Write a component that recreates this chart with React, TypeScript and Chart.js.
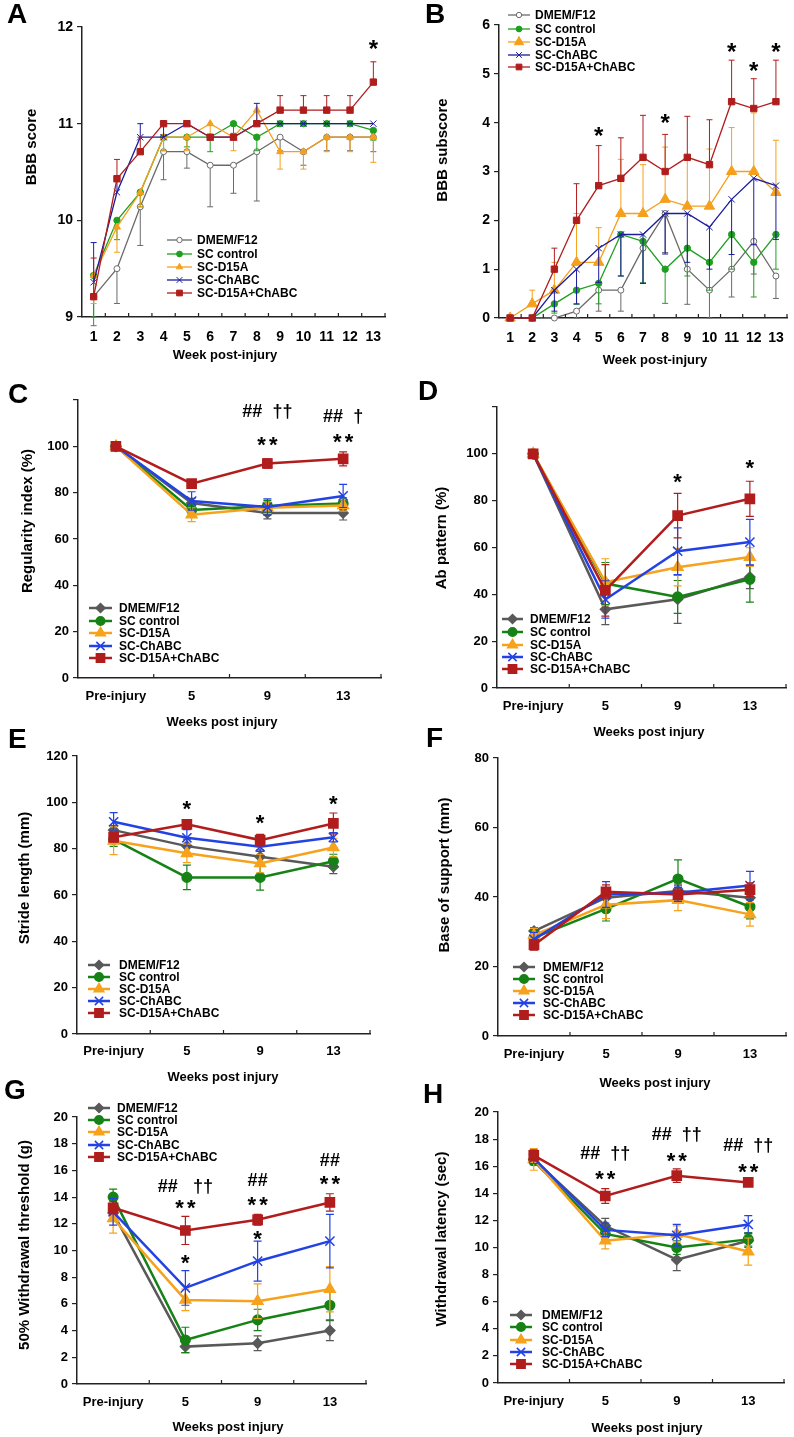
import React, { useEffect, useRef } from 'react';
import { Chart, registerables } from 'chart.js';
import { drawPoint } from 'chart.js/helpers';

Chart.register(...registerables);

const FONT = "'Liberation Sans', Arial, Helvetica, sans-serif";
Chart.defaults.font.family = FONT;
Chart.defaults.font.weight = 'bold';
Chart.defaults.color = '#000';

// ---------------- data ----------------
const GROUPS = ['DMEM/F12', 'SC control', 'SC-D15A', 'SC-ChABC', 'SC-D15A+ChABC'];
const WEEKS = ['1', '2', '3', '4', '5', '6', '7', '8', '9', '10', '11', '12', '13'];
const VISITS = ['Pre-injury', '5', '9', '13'];

// A: BBB score
const bbbDmem = [9.21, 9.5, 10.14, 10.71, 10.71, 10.57, 10.57, 10.71, 10.86, 10.71, 10.86, 10.86, 10.86];
const bbbDmemErr = [0.3, 0.36, 0.4, 0.29, 0.17, 0.43, 0.29, 0.51, 0.14, 0.14, 0.14, 0.14, 0.15];
const bbbSc = [9.43, 10.0, 10.29, 10.86, 10.86, 10.86, 11.0, 10.86, 11.0, 11.0, 11.0, 11.0, 10.93];
const bbbScErr = [0.43, 0.2, 0.15, 0.14, 0.1, 0.15, 0.1, 0.14, 0, 0, 0, 0, 0.1];
const bbbD15a = [9.43, 9.93, 10.29, 10.86, 10.86, 11.0, 10.86, 11.14, 10.71, 10.71, 10.86, 10.86, 10.86];
const bbbD15aErr = [0.29, 0.26, 0.15, 0.14, 0.14, 0.14, 0.14, 0.14, 0.18, 0.18, 0.15, 0.15, 0.26];
const bbbChabc = [9.36, 10.29, 10.86, 10.86, 11.0, 10.86, 10.86, 11.0, 11.0, 11.0, 11.0, 11.0, 11.0];
const bbbChabcErr = [0.41, 0.17, 0.14, 0.14, 0, 0, 0, 0.21, 0, 0, 0, 0, 0];
const bbbCombo = [9.21, 10.43, 10.71, 11.0, 11.0, 10.86, 10.86, 11.0, 11.14, 11.14, 11.14, 11.14, 11.43];
const bbbComboErr = [0.4, 0.2, 0.15, 0, 0, 0, 0, 0, 0.15, 0.15, 0.15, 0.15, 0.21];
const bbbMarks = [{ at: 12, v: 11.83, t: '*' }];

// B: BBB subscore
const subDmem = [0, 0, 0, 0.14, 0.57, 0.57, 1.43, 2.14, 1.0, 0.57, 1.0, 1.57, 0.86];
const subDmemErr = [0, 0, 0, 0.14, 0.43, 0.43, 0.72, 0.8, 0.72, 0.57, 0.57, 0.67, 0.46];
const subSc = [0, 0, 0.29, 0.57, 0.71, 1.71, 1.57, 1.0, 1.43, 1.14, 1.71, 1.14, 1.71];
const subScErr = [0, 0, 0.19, 0.29, 0.42, 0.85, 0.85, 0.7, 0.57, 0.57, 0.71, 0.71, 0.71];
const subD15a = [0, 0.29, 0.57, 1.14, 1.14, 2.14, 2.14, 2.43, 2.29, 2.29, 3.0, 3.0, 2.57];
const subD15aErr = [0, 0.28, 0.57, 1.0, 0.71, 1.11, 1.0, 1.07, 1.0, 1.17, 0.9, 1.2, 1.07];
const subChabc = [0, 0, 0.57, 1.0, 1.43, 1.71, 1.71, 2.14, 2.14, 1.86, 2.43, 2.86, 2.71];
const subChabcErr = [0, 0, 0.43, 0.71, 0.7, 0.85, 1.0, 0.83, 1.0, 0.86, 1.13, 1.36, 1.1];
const subCombo = [0, 0, 1.0, 2.0, 2.71, 2.86, 3.29, 3.0, 3.29, 3.14, 4.43, 4.29, 4.43];
const subComboErr = [0, 0, 0.43, 0.75, 0.82, 0.83, 0.86, 0.76, 0.84, 0.92, 0.85, 0.61, 0.85];
const subMarks = [
  { at: 4, v: 3.85, t: '*' },
  { at: 7, v: 4.12, t: '*' },
  { at: 10, v: 5.56, t: '*' },
  { at: 11, v: 5.18, t: '*' },
  { at: 12, v: 5.56, t: '*' },
];

// C: Regularity index
const regDmem = [100, 75.5, 71.2, 71.2];
const regDmemErr = [0, 2, 2.5, 3];
const regSc = [100, 72.5, 74.2, 75.3];
const regScErr = [0, 2.5, 2.5, 2.5];
const regD15a = [100, 70.5, 73.5, 74.5];
const regD15aErr = [0, 3, 2.5, 2.5];
const regChabc = [100, 76.4, 73.8, 78.6];
const regChabcErr = [0, 4, 3.5, 5];
const regCombo = [100, 83.9, 92.6, 94.6];
const regComboErr = [0, 1.5, 2, 3];
const regMarks = [
  { at: 2, v: 115.2, t: '##  ††' },
  { at: 2, v: 103, t: '**' },
  { at: 3, v: 113.1, t: '##  †' },
  { at: 3, v: 104.5, t: '**' },
];

// D: Ab pattern
const abDmem = [100, 33.6, 37.9, 47.4];
const abDmemErr = [0, 6.5, 10.3, 5];
const abSc = [100, 44.6, 38.9, 46.4];
const abScErr = [0, 9, 7, 9.7];
const abD15a = [100, 45.2, 51.6, 55.9];
const abD15aErr = [0, 10, 8, 4];
const abChabc = [100, 37.8, 58.4, 62.3];
const abChabcErr = [0, 8, 10, 9.7];
const abCombo = [100, 41.7, 73.6, 80.8];
const abComboErr = [0, 11, 9.5, 7.5];
const abMarks = [
  { at: 2, v: 90.6, t: '*' },
  { at: 3, v: 96.3, t: '*' },
];

// E: Stride length
const strDmem = [88, 81.1, 76.5, 72.2];
const strDmemErr = [2, 3, 3, 3];
const strSc = [84, 67.6, 67.6, 74.6];
const strScErr = [3, 5.3, 5.5, 3];
const strD15a = [83.4, 78, 73.6, 80.5];
const strD15aErr = [6, 4, 4, 4];
const strChabc = [91.6, 84.7, 80.8, 84.9];
const strChabcErr = [4, 3.5, 2, 2];
const strCombo = [84.9, 90.5, 83.7, 90.9];
const strComboErr = [2, 2, 2.5, 4.5];
const strMarks = [
  { at: 1, v: 99.5, t: '*' },
  { at: 2, v: 93.5, t: '*' },
  { at: 3, v: 101.7, t: '*' },
];

// F: Base of support
const bosDmem = [30.2, 39.8, 41.7, 39.8];
const bosDmemErr = [1, 2, 2, 2];
const bosSc = [28.3, 36.6, 45.2, 37.2];
const bosScErr = [2, 3.5, 5.5, 3.5];
const bosD15a = [29, 37.8, 39.1, 35];
const bosD15aErr = [2, 4, 3, 3.4];
const bosChabc = [27.8, 40.7, 41.2, 43.3];
const bosChabcErr = [2, 3.7, 2, 4.1];
const bosCombo = [26.2, 41.5, 40.7, 42.1];
const bosComboErr = [1.5, 2, 2, 2];

// G: 50% withdrawal threshold
const vfDmem = [12.8, 2.8, 3.05, 4.0];
const vfDmemErr = [0.5, 0.45, 0.55, 0.75];
const vfSc = [14.0, 3.3, 4.8, 5.9];
const vfScErr = [0.6, 0.95, 0.8, 1.1];
const vfD15a = [12.4, 6.3, 6.2, 7.1];
const vfD15aErr = [1.1, 0.8, 1.3, 1.7];
const vfChabc = [12.9, 7.2, 9.2, 10.7];
const vfChabcErr = [1.0, 1.3, 1.5, 2.0];
const vfCombo = [13.2, 11.5, 12.3, 13.6];
const vfComboErr = [0.45, 1.05, 0.4, 0.65];
const vfMarks = [
  { at: 1, v: 14.83, t: '##   ††' },
  { at: 1, v: 13.58, t: '**' },
  { at: 1, v: 9.53, t: '*' },
  { at: 2, v: 15.28, t: '##' },
  { at: 2, v: 13.83, t: '**' },
  { at: 2, v: 11.29, t: '*' },
  { at: 3, v: 16.78, t: '##' },
  { at: 3, v: 15.4, t: '**' },
];

// H: Withdrawal latency
const hgDmem = [16.5, 11.6, 9.1, 10.5];
const hgDmemErr = [0.3, 0.55, 0.8, 0.5];
const hgSc = [16.4, 11.0, 10.0, 10.6];
const hgScErr = [0.3, 0.4, 0.5, 0.5];
const hgD15a = [16.5, 10.5, 11.0, 9.7];
const hgD15aErr = [0.8, 0.6, 0.6, 1.0];
const hgChabc = [16.6, 11.3, 10.9, 11.7];
const hgChabcErr = [0.4, 0.5, 0.8, 0.65];
const hgCombo = [16.8, 13.8, 15.3, 14.8];
const hgComboErr = [0.4, 0.55, 0.5, 0.15];
const hgMarks = [
  { at: 1, v: 17.0, t: '##  ††' },
  { at: 1, v: 15.48, t: '**' },
  { at: 2, v: 18.38, t: '##  ††' },
  { at: 2, v: 16.83, t: '**' },
  { at: 3, v: 17.56, t: '##  ††' },
  { at: 3, v: 16.01, t: '**' },
];

// ---------------- styles ----------------
type Mode = 'up' | 'down' | 'both';
interface SeriesStyle { color: string; fill: string; point: string; r: number; }

const BBB_STYLE: SeriesStyle[] = [
  { color: '#6a6a6a', fill: '#ffffff', point: 'circle', r: 3 },
  { color: '#1f9f1f', fill: '#1f9f1f', point: 'circle', r: 3.2 },
  { color: '#f5a01c', fill: '#f5a01c', point: 'triangle', r: 4 },
  { color: '#1c1c9c', fill: '#1c1c9c', point: 'crossRot', r: 4.5 },
  { color: '#b01d1d', fill: '#b01d1d', point: 'rect', r: 4.5 },
];
const SUB_STYLE: SeriesStyle[] = BBB_STYLE.map((s, i) => (i === 2 ? { ...s, r: 6 } : s));
const GAIT_STYLE: SeriesStyle[] = [
  { color: '#595959', fill: '#595959', point: 'rectRot', r: 5 },
  { color: '#168216', fill: '#168216', point: 'circle', r: 4.8 },
  { color: '#f6a21c', fill: '#f6a21c', point: 'triangle', r: 6.2 },
  { color: '#2342e4', fill: '#2342e4', point: 'crossRot', r: 6.5 },
  { color: '#b11d1d', fill: '#b11d1d', point: 'rect', r: 6.5 },
];

interface Mark { at: number; v: number; t: string; }
interface PanelDef {
  rect: [number, number, number, number];
  plot: [number, number, number, number];
  labels: string[];
  values: number[][];
  errors: number[][];
  modes: Mode[];
  styles: SeriesStyle[];
  lineWidth: number;
  pointBorder: number;
  errWidth: number;
  cap: number;
  yMin: number; yMax: number; yStep: number; hideTop?: boolean;
  yFont: number; xFont: number; xPad: number;
  letter: [string, number, number];
  yTitle: [string, number, number];
  xTitle: [string, number, number];
  legend: { x0: number; x1: number; tx: number; rows: number[] };
  marks: Mark[];
  starSize: number;
}

const BOTH: Mode[] = ['both', 'both', 'both', 'both', 'both'];
const gaitCommon = {
  labels: VISITS, modes: BOTH, styles: GAIT_STYLE, lineWidth: 2.5, pointBorder: 1.5,
  errWidth: 1.2, cap: 4, yFont: 13, xFont: 13, starSize: 22,
};

const PANELS: PanelDef[] = [
  {
    rect: [0, 0, 397, 372], plot: [82, 27, 385, 317], labels: WEEKS,
    values: [bbbDmem, bbbSc, bbbD15a, bbbChabc, bbbCombo],
    errors: [bbbDmemErr, bbbScErr, bbbD15aErr, bbbChabcErr, bbbComboErr],
    modes: ['down', 'down', 'down', 'up', 'up'], styles: BBB_STYLE,
    lineWidth: 1.3, pointBorder: 1, errWidth: 1, cap: 3,
    yMin: 9, yMax: 12, yStep: 1, yFont: 14, xFont: 14, xPad: 12,
    letter: ['A', 7, 23], yTitle: ['BBB score', 32, 147], xTitle: ['Week post-injury', 225, 355],
    legend: { x0: 167, x1: 192, tx: 197, rows: [240, 254, 267, 280, 293] },
    marks: bbbMarks, starSize: 24,
  },
  {
    rect: [397, 0, 397, 372], plot: [499, 25, 790, 318], labels: WEEKS,
    values: [subDmem, subSc, subD15a, subChabc, subCombo],
    errors: [subDmemErr, subScErr, subD15aErr, subChabcErr, subComboErr],
    modes: ['down', 'down', 'up', 'down', 'up'], styles: SUB_STYLE,
    lineWidth: 1.3, pointBorder: 1, errWidth: 1, cap: 3,
    yMin: 0, yMax: 6, yStep: 1, yFont: 14, xFont: 14, xPad: 12,
    letter: ['B', 425, 23], yTitle: ['BBB subscore', 443, 150], xTitle: ['Week post-injury', 655, 360],
    legend: { x0: 508, x1: 530, tx: 535, rows: [15, 29, 42, 55, 67] },
    marks: subMarks, starSize: 24,
  },
  {
    ...gaitCommon,
    rect: [0, 372, 397, 370], plot: [78, 400, 381, 678],
    values: [regDmem, regSc, regD15a, regChabc, regCombo],
    errors: [regDmemErr, regScErr, regD15aErr, regChabcErr, regComboErr],
    yMin: 0, yMax: 120, yStep: 20, hideTop: true, xPad: 11,
    letter: ['C', 8, 403], yTitle: ['Regularity index (%)', 28, 521], xTitle: ['Weeks post injury', 222, 722],
    legend: { x0: 89, x1: 112, tx: 119, rows: [608, 621, 633, 646, 658] },
    marks: regMarks,
  },
  {
    ...gaitCommon,
    rect: [397, 372, 397, 370], plot: [497, 407, 792, 688],
    values: [abDmem, abSc, abD15a, abChabc, abCombo],
    errors: [abDmemErr, abScErr, abD15aErr, abChabcErr, abComboErr],
    yMin: 0, yMax: 120, yStep: 20, hideTop: true, xPad: 11,
    letter: ['D', 418, 400], yTitle: ['Ab pattern (%)', 442, 538], xTitle: ['Weeks post injury', 649, 732],
    legend: { x0: 502, x1: 523, tx: 530, rows: [619, 632, 645, 657, 669] },
    marks: abMarks,
  },
  {
    ...gaitCommon,
    rect: [0, 718, 397, 372], plot: [77, 756, 370, 1034],
    values: [strDmem, strSc, strD15a, strChabc, strCombo],
    errors: [strDmemErr, strScErr, strD15aErr, strChabcErr, strComboErr],
    yMin: 0, yMax: 120, yStep: 20, xPad: 10,
    letter: ['E', 8, 748], yTitle: ['Stride length (mm)', 25, 878], xTitle: ['Weeks post injury', 223, 1077],
    legend: { x0: 88, x1: 110, tx: 119, rows: [965, 977, 989, 1001, 1013] },
    marks: strMarks,
  },
  {
    ...gaitCommon,
    rect: [397, 718, 397, 372], plot: [498, 758, 789, 1036],
    values: [bosDmem, bosSc, bosD15a, bosChabc, bosCombo],
    errors: [bosDmemErr, bosScErr, bosD15aErr, bosChabcErr, bosComboErr],
    yMin: 0, yMax: 80, yStep: 20, xPad: 11,
    letter: ['F', 426, 747], yTitle: ['Base of support (mm)', 445, 875], xTitle: ['Weeks post injury', 655, 1083],
    legend: { x0: 513, x1: 535, tx: 543, rows: [967, 979, 991, 1003, 1015] },
    marks: [],
  },
  {
    ...gaitCommon,
    rect: [0, 1068, 397, 369], plot: [77, 1117, 366, 1384],
    values: [vfDmem, vfSc, vfD15a, vfChabc, vfCombo],
    errors: [vfDmemErr, vfScErr, vfD15aErr, vfChabcErr, vfComboErr],
    yMin: 0, yMax: 20, yStep: 2, xPad: 11,
    letter: ['G', 4, 1099], yTitle: ['50% Withdrawal threshold (g)', 25, 1245], xTitle: ['Weeks post injury', 228, 1427],
    legend: { x0: 88, x1: 110, tx: 117, rows: [1108, 1120, 1132, 1145, 1157] },
    marks: vfMarks,
  },
  {
    ...gaitCommon,
    rect: [397, 1068, 397, 369], plot: [498, 1112, 784, 1383],
    values: [hgDmem, hgSc, hgD15a, hgChabc, hgCombo],
    errors: [hgDmemErr, hgScErr, hgD15aErr, hgChabcErr, hgComboErr],
    yMin: 0, yMax: 20, yStep: 2, xPad: 11,
    letter: ['H', 423, 1103], yTitle: ['Withdrawal latency (sec)', 442, 1239], xTitle: ['Weeks post injury', 647, 1428],
    legend: { x0: 510, x1: 532, tx: 542, rows: [1315, 1327, 1340, 1352, 1364] },
    marks: hgMarks,
  },
];

// ---------------- chart building ----------------
function buildConfig(d: PanelDef): any {
  const [ox, oy, cw, ch] = d.rect;
  const [L, T, R, B] = d.plot;
  const XH = 30;
  const st = d.styles;

  const datasets = d.values.map((vals, i) => ({
    label: GROUPS[i],
    data: vals,
    borderColor: st[i].color,
    backgroundColor: st[i].fill,
    pointBackgroundColor: st[i].fill,
    pointBorderColor: st[i].color,
    pointStyle: st[i].point,
    pointRadius: st[i].r,
    pointHoverRadius: st[i].r,
    pointBorderWidth: d.pointBorder,
    borderWidth: d.lineWidth,
    tension: 0,
    fill: false,
    order: 4 - i,
    clip: false,
  }));

  const decor = {
    id: 'decor',
    beforeDatasetDraw(chart: any, args: any) {
      const i = args.index;
      const err = d.errors[i];
      const mode = d.modes[i];
      const ys = chart.scales.y;
      const ctx = chart.ctx;
      ctx.save();
      ctx.strokeStyle = st[i].color;
      ctx.lineWidth = d.errWidth;
      args.meta.data.forEach((pt: any, j: number) => {
        const e = err[j];
        if (!e) return;
        const v = d.values[i][j];
        const x = pt.x;
        const yTop = ys.getPixelForValue(v + e);
        const yBot = ys.getPixelForValue(v - e);
        const yMid = ys.getPixelForValue(v);
        ctx.beginPath();
        ctx.moveTo(x, mode === 'down' ? yMid : yTop);
        ctx.lineTo(x, mode === 'up' ? yMid : yBot);
        if (mode !== 'down') { ctx.moveTo(x - d.cap, yTop); ctx.lineTo(x + d.cap, yTop); }
        if (mode !== 'up') { ctx.moveTo(x - d.cap, yBot); ctx.lineTo(x + d.cap, yBot); }
        ctx.stroke();
      });
      ctx.restore();
    },
    afterDraw(chart: any) {
      const ctx = chart.ctx;
      const area = chart.chartArea;
      const xs = chart.scales.x;
      const ys = chart.scales.y;
      ctx.save();
      // inward x tick marks at category boundaries
      const n = d.labels.length;
      const step = (area.right - area.left) / n;
      ctx.strokeStyle = '#222';
      ctx.lineWidth = 1.2;
      ctx.beginPath();
      for (let k = 1; k <= n; k++) {
        const x = area.left + k * step;
        ctx.moveTo(x, area.bottom);
        ctx.lineTo(x, area.bottom - 4);
      }
      ctx.stroke();

      ctx.fillStyle = '#000';
      // panel letter
      ctx.font = `bold 28px ${FONT}`;
      ctx.textAlign = 'left';
      ctx.textBaseline = 'alphabetic';
      ctx.fillText(d.letter[0], d.letter[1] - ox, d.letter[2] - oy);

      // y title
      ctx.font = `bold 15px ${FONT}`;
      ctx.textAlign = 'center';
      ctx.textBaseline = 'middle';
      ctx.save();
      ctx.translate(d.yTitle[1] - ox, d.yTitle[2] - oy);
      ctx.rotate(-Math.PI / 2);
      ctx.fillText(d.yTitle[0], 0, 0);
      ctx.restore();

      // x title
      ctx.font = `bold 13px ${FONT}`;
      ctx.fillText(d.xTitle[0], d.xTitle[1] - ox, d.xTitle[2] - oy);

      // legend
      const lg = d.legend;
      GROUPS.forEach((g, i) => {
        const y = lg.rows[i] - oy;
        ctx.strokeStyle = st[i].color;
        ctx.lineWidth = d.lineWidth;
        ctx.beginPath();
        ctx.moveTo(lg.x0 - ox, y);
        ctx.lineTo(lg.x1 - ox, y);
        ctx.stroke();
        ctx.fillStyle = st[i].fill;
        ctx.lineWidth = d.pointBorder;
        drawPoint(ctx, { pointStyle: st[i].point, radius: st[i].r * 0.9, rotation: 0, borderWidth: d.pointBorder } as any,
          (lg.x0 + lg.x1) / 2 - ox, y);
        ctx.fillStyle = '#000';
        ctx.font = `bold 12px ${FONT}`;
        ctx.textAlign = 'left';
        ctx.textBaseline = 'middle';
        ctx.fillText(g, lg.tx - ox, y + 0.5);
      });

      // significance marks
      ctx.fillStyle = '#000';
      ctx.textAlign = 'center';
      ctx.textBaseline = 'alphabetic';
      d.marks.forEach((m) => {
        const x = xs.getPixelForValue(m.at);
        const y = ys.getPixelForValue(m.v);
        const starOnly = /^[*\s]+$/.test(m.t);
        const size = starOnly ? d.starSize : 18;
        ctx.font = `bold ${size}px ${FONT}`;
        (ctx as any).letterSpacing = starOnly && m.t.length > 1 ? '3px' : '0px';
        ctx.fillText(m.t, x + (starOnly && m.t.length > 1 ? 1.5 : 0), y + (starOnly ? 0.58 : 0.33) * size);
      });
      (ctx as any).letterSpacing = '0px';
      ctx.restore();
    },
  };

  return {
    type: 'line',
    data: { labels: d.labels, datasets },
    options: {
      animation: false,
      responsive: false,
      devicePixelRatio: 1,
      events: [],
      layout: {
        padding: {
          left: 0,
          top: T - oy,
          right: ox + cw - R,
          bottom: oy + ch - B - XH,
        },
      },
      plugins: { legend: { display: false }, tooltip: { enabled: false }, title: { display: false } },
      scales: {
        x: {
          type: 'category',
          offset: true,
          grid: { display: false, drawTicks: false, offset: true },
          border: { display: true, color: '#222', width: 1.5 },
          ticks: {
            font: { size: d.xFont, weight: 'bold', family: FONT },
            color: '#000',
            padding: d.xPad,
            autoSkip: false,
            maxRotation: 0,
            minRotation: 0,
          },
          afterFit: (s: any) => { s.height = XH; s.paddingLeft = 0; s.paddingRight = 0; },
        },
        y: {
          type: 'linear',
          min: d.yMin,
          max: d.yMax,
          ticks: {
            stepSize: d.yStep,
            font: { size: d.yFont, weight: 'bold', family: FONT },
            color: '#000',
            padding: 4,
            callback: (v: any) => (d.hideTop && v === d.yMax ? '' : String(v)),
          },
          grid: { drawOnChartArea: false, drawTicks: true, tickLength: 5, color: '#222', lineWidth: 1.2 },
          border: { display: true, color: '#222', width: 1.5 },
          afterFit: (s: any) => { s.width = L - ox; s.paddingTop = 0; s.paddingBottom = 0; },
        },
      },
    },
    plugins: [decor],
  };
}

function Panel({ def }: { def: PanelDef }) {
  const ref = useRef<HTMLCanvasElement>(null);
  useEffect(() => {
    const chart = new Chart(ref.current as HTMLCanvasElement, buildConfig(def));
    return () => chart.destroy();
  }, [def]);
  const [x, y, w, h] = def.rect;
  return (
    <canvas
      ref={ref}
      width={w}
      height={h}
      style={{ position: 'absolute', left: x, top: y, width: w, height: h }}
    />
  );
}

export default function App() {
  return (
    <div style={{ position: 'absolute', left: 0, top: 0, width: 794, height: 1437, background: '#fff', overflow: 'hidden' }}>
      {PANELS.map((p, i) => (
        <Panel key={i} def={p} />
      ))}
    </div>
  );
}
